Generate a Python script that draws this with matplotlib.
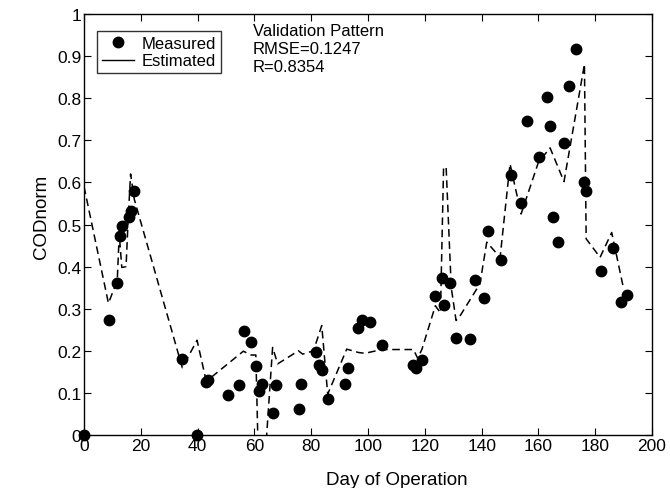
import numpy as np
import matplotlib.pyplot as plt
from matplotlib.lines import Line2D

plt.rcParams['font.family'] = ['Liberation Sans', 'DejaVu Sans']

# measured points
day_meas = [0, 8.7, 11.7, 12.8, 13.5, 15.7, 16.5, 17.7, 34.6, 39.8,
            42.8, 43.5, 50.7, 54.7, 56.4, 58.8, 60.7, 61.7, 62.8, 66.5,
            67.6, 75.8, 76.3, 81.7, 82.9, 83.7, 85.8, 91.8, 92.8, 96.5,
            97.9, 100.8, 104.8, 115.8, 116.8, 119.0, 123.7, 125.9, 126.8, 129.0,
            130.9, 136.0, 137.8, 141.0, 142.1, 146.7, 150.2, 153.7, 156.1, 160.1,
            163.1, 164.0, 165.0, 166.8, 169.0, 170.9, 173.1, 176.1, 176.8, 182.0,
            186.2, 189.1, 191.1]
cod_meas = [0, 0.272, 0.362, 0.472, 0.497, 0.517, 0.531, 0.579, 0.18, 0,
            0.127, 0.13, 0.096, 0.118, 0.246, 0.222, 0.163, 0.105, 0.122, 0.052,
            0.118, 0.062, 0.121, 0.196, 0.167, 0.154, 0.085, 0.121, 0.158, 0.254,
            0.272, 0.269, 0.213, 0.167, 0.158, 0.177, 0.33, 0.372, 0.308, 0.362,
            0.23, 0.227, 0.367, 0.325, 0.485, 0.416, 0.618, 0.552, 0.747, 0.66,
            0.804, 0.735, 0.518, 0.458, 0.693, 0.828, 0.918, 0.6, 0.579, 0.39,
            0.443, 0.315, 0.333]

# estimated curve
day_est = [0, 8.6, 11.7, 12.4, 13.3, 14.8, 15.6, 16.4, 17.7, 34.6,
           39.8, 42.8, 43.5, 56.1, 58.8, 60.5, 61.7, 62.8, 66.4, 68.2,
           75.5, 77.0, 80.8, 83.7, 85.8, 92.5, 96.6, 98.9, 104.8, 116.0,
           117.5, 119.0, 123.7, 125.5, 126.6, 127.5, 129.3, 131.0, 132.4, 139.4,
           141.8, 146.5, 150.0, 153.9, 160.0, 164.1, 169.0, 176.2, 176.8, 181.7,
           185.8, 189.9]
cod_est = [0.59, 0.313, 0.367, 0.477, 0.398, 0.4, 0.52, 0.62, 0.56, 0.16,
           0.225, 0.135, 0.13, 0.199, 0.19, 0.19, -0.15, -0.15, 0.208, 0.169,
           0.2, 0.192, 0.2, 0.26, 0.097, 0.204, 0.196, 0.194, 0.203, 0.203,
           0.182, 0.204, 0.307, 0.29, 0.636, 0.636, 0.35, 0.272, 0.283, 0.359,
           0.458, 0.422, 0.644, 0.525, 0.648, 0.682, 0.602, 0.881, 0.466, 0.422,
           0.481, 0.35]

fig = plt.figure(figsize=(6.7, 4.89), dpi=100)
ax = fig.add_axes([0.1254, 0.1084, 0.8478, 0.8609])

ax.plot(day_est, cod_est, color='black', linestyle=(0, (5, 3)), linewidth=1.1)
ax.plot(day_meas, cod_meas, 'o', color='black', markersize=7.5, clip_on=False)

ax.set_xlim(0, 200)
ax.set_ylim(0, 1)
ax.set_xticks(np.arange(0, 201, 20))
ax.set_yticks(np.arange(0, 1.01, 0.1))
ax.set_yticklabels(['0', '0.1', '0.2', '0.3', '0.4', '0.5', '0.6', '0.7', '0.8', '0.9', '1'])
ax.tick_params(direction='in', top=True, right=True, length=5, labelsize=12.5, pad=2)
for s in ax.spines.values():
    s.set_linewidth(1.0)

ax.set_xlabel('Day of Operation', fontsize=13.5)
ax.xaxis.set_label_coords(0.551, -0.085)
ax.set_ylabel('CODnorm', fontsize=13.5)
ax.yaxis.set_label_coords(-0.06, 0.52)

handles = [Line2D([], [], marker='o', color='black', linestyle='none', markersize=7.5),
           Line2D([], [], color='black', linewidth=1.0)]
leg = ax.legend(handles, ['Measured', 'Estimated'], loc='upper left',
                bbox_to_anchor=(0.023, 0.96), borderaxespad=0, fontsize=12,
                frameon=True, fancybox=False, handlelength=1.9,
                labelspacing=0.15, borderpad=0.3, handletextpad=0.5)
leg.get_frame().set_edgecolor('black')
leg.get_frame().set_linewidth(1.0)

ax.text(0.2975, 0.978, 'Validation Pattern\nRMSE=0.1247\nR=0.8354',
        transform=ax.transAxes, fontsize=12, va='top', ha='left', linespacing=1.22)

fig.savefig('out.png', dpi=100)
